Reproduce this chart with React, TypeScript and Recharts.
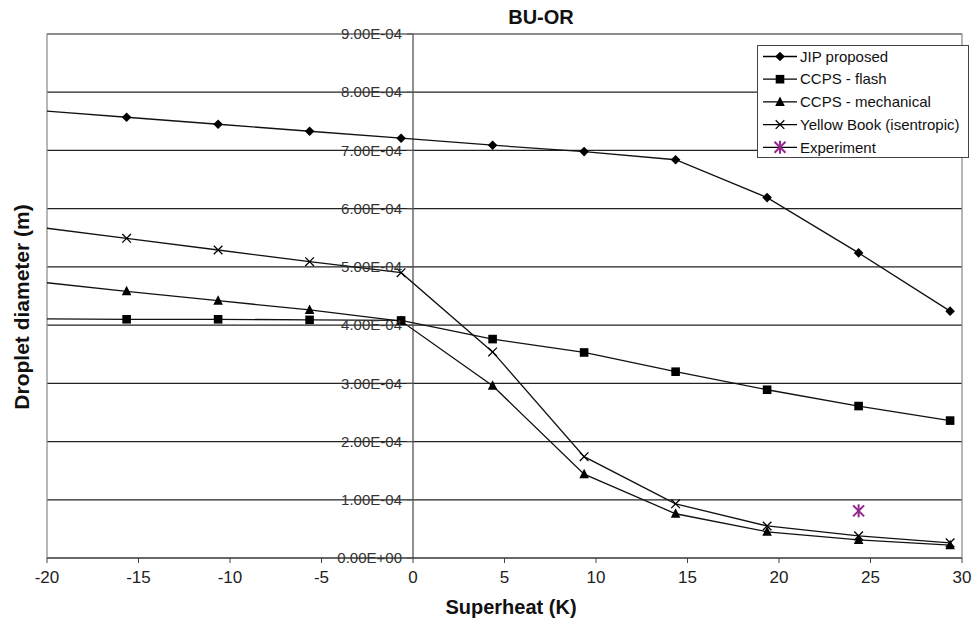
import React from 'react';
import {
  ComposedChart,
  Line,
  Scatter,
  XAxis,
  YAxis,
  CartesianGrid,
  ReferenceLine,
  ReferenceArea,
} from 'recharts';

// superheat (K) – first value sits just left of the axis range, as in the original plot
const superheat = [-20.65, -15.65, -10.65, -5.65, -0.65, 4.35, 9.35, 14.35, 19.35, 24.35, 29.35];
const jipProposed = [7.69e-4, 7.57e-4, 7.45e-4, 7.33e-4, 7.21e-4, 7.09e-4, 6.98e-4, 6.84e-4, 6.19e-4, 5.24e-4, 4.24e-4];
const ccpsFlash = [4.11e-4, 4.10e-4, 4.10e-4, 4.09e-4, 4.08e-4, 3.76e-4, 3.53e-4, 3.2e-4, 2.89e-4, 2.61e-4, 2.36e-4];
const ccpsMechanical = [4.75e-4, 4.58e-4, 4.42e-4, 4.26e-4, 4.07e-4, 2.96e-4, 1.44e-4, 0.76e-4, 0.45e-4, 0.31e-4, 0.22e-4];
const yellowBook = [5.69e-4, 5.49e-4, 5.29e-4, 5.09e-4, 4.9e-4, 3.54e-4, 1.74e-4, 0.93e-4, 0.55e-4, 0.38e-4, 0.26e-4];
const experimentX = [24.35];
const experimentY = [0.81e-4];

const xTicks = [-20, -15, -10, -5, 0, 5, 10, 15, 20, 25, 30];
const yTicks = [0, 1e-4, 2e-4, 3e-4, 4e-4, 5e-4, 6e-4, 7e-4, 8e-4, 9e-4];

const X_MIN = -20;
const X_MAX = 30;
const W = 975;
const H = 624;
const Y_AXIS_W = 1;
const X_AXIS_H = 30;
const MARGIN = { top: 34, right: 13, bottom: 36, left: 46 };
const PLOT_LEFT = MARGIN.left + Y_AXIS_W;
const PLOT_W = W - PLOT_LEFT - MARGIN.right;
const FONT = '"Liberation Sans", Arial, sans-serif';
const PURPLE = '#93268f';

const data = superheat.map((x, i) => ({
  x,
  jip: jipProposed[i],
  flash: ccpsFlash[i],
  mech: ccpsMechanical[i],
  yb: yellowBook[i],
}));
const experiment = experimentX.map((x, i) => ({ x, y: experimentY[i] }));

const fmtExp = (v: number) => {
  const [m, e] = v.toExponential(2).toUpperCase().split('E');
  const n = parseInt(e, 10);
  const sign = n < 0 ? '-' : '+';
  return `${m}E${sign}${String(Math.abs(n)).padStart(2, '0')}`;
};

type Shape = 'diamond' | 'square' | 'triangle' | 'cross' | 'star';

const Marker = ({ shape, cx, cy, color = '#000' }: { shape: Shape; cx: number; cy: number; color?: string }) => {
  if (shape === 'diamond') {
    const r = 4.8;
    return <polygon points={`${cx},${cy - r} ${cx + r},${cy} ${cx},${cy + r} ${cx - r},${cy}`} fill={color} />;
  }
  if (shape === 'square') return <rect x={cx - 4.3} y={cy - 4.3} width={8.6} height={8.6} fill={color} />;
  if (shape === 'triangle') {
    return <polygon points={`${cx},${cy - 5.5} ${cx + 4.8},${cy + 4} ${cx - 4.8},${cy + 4}`} fill={color} />;
  }
  if (shape === 'cross') {
    const r = 4.3;
    return (
      <g stroke={color} strokeWidth={1.3}>
        <line x1={cx - r} y1={cy - r} x2={cx + r} y2={cy + r} />
        <line x1={cx - r} y1={cy + r} x2={cx + r} y2={cy - r} />
      </g>
    );
  }
  const r = 5.5;
  return (
    <g stroke={color} strokeWidth={2}>
      <line x1={cx - r} y1={cy - r} x2={cx + r} y2={cy + r} />
      <line x1={cx - r} y1={cy + r} x2={cx + r} y2={cy - r} />
      <line x1={cx} y1={cy - r - 1} x2={cx} y2={cy + r + 1} />
    </g>
  );
};

const series: { key: string; name: string; shape: Shape }[] = [
  { key: 'jip', name: 'JIP proposed', shape: 'diamond' },
  { key: 'flash', name: 'CCPS - flash', shape: 'square' },
  { key: 'mech', name: 'CCPS - mechanical', shape: 'triangle' },
  { key: 'yb', name: 'Yellow Book (isentropic)', shape: 'cross' },
];

const makeDot = (shape: Shape) => (props: any) => {
  const { cx, cy, payload, index } = props;
  if (cx == null || cy == null || payload.x < X_MIN) return <g key={`d-${index}`} />;
  return (
    <g key={`d-${index}`}>
      <Marker shape={shape} cx={cx} cy={cy} />
    </g>
  );
};

// y axis sits on x = 0, inside the plot
const YTick = (props: any) => {
  const { y, payload } = props;
  const x0 = PLOT_LEFT + ((0 - X_MIN) / (X_MAX - X_MIN)) * PLOT_W;
  return (
    <g>
      <line x1={x0 - 6} x2={x0} y1={y} y2={y} stroke="#555" />
      <text x={x0 - 11} y={y} dy="0.35em" textAnchor="end" fontSize={15} fill="#333" fontFamily={FONT}>
        {fmtExp(payload.value)}
      </text>
    </g>
  );
};

const LegendBox = () => (
  <svg width={213} height={114} style={{ position: 'absolute', left: 757, top: 45 }}>
    <rect x={0.5} y={0.5} width={211} height={112} fill="#fff" stroke="#444" />
    {[...series.map((s) => ({ name: s.name, shape: s.shape, color: '#000' })), { name: 'Experiment', shape: 'star' as Shape, color: PURPLE }].map(
      (s, i) => {
        const y = 11.5 + i * 22.7;
        return (
          <g key={s.name}>
            <line x1={6} x2={40} y1={y} y2={y} stroke="#000" strokeWidth={1.3} />
            <Marker shape={s.shape} cx={23} cy={y} color={s.color} />
            <text x={43} y={y} dy="0.35em" fontSize={15} fill="#111" fontFamily={FONT}>
              {s.name}
            </text>
          </g>
        );
      },
    )}
  </svg>
);

const App = () => (
  <div style={{ position: 'absolute', left: 0, top: 0, width: W, height: H, background: '#fff', fontFamily: FONT }}>
    <ComposedChart width={W} height={H} data={data} margin={MARGIN}>
      <CartesianGrid vertical={false} stroke="#222" strokeWidth={1.2} />
      <ReferenceArea x1={X_MIN} x2={X_MAX} y1={0} y2={9e-4} fill="none" stroke="#888" strokeWidth={1.2} />
      <XAxis
        dataKey="x"
        type="number"
        domain={[X_MIN, X_MAX]}
        ticks={xTicks}
        allowDataOverflow
        height={X_AXIS_H}
        stroke="#444"
        tickSize={5}
        tick={{ fontSize: 17, fill: '#222', fontFamily: FONT }}
        tickMargin={8}
      />
      <YAxis
        type="number"
        domain={[0, 9e-4]}
        ticks={yTicks}
        interval={0}
        width={Y_AXIS_W}
        axisLine={false}
        tickLine={false}
        tick={(p: any) => <YTick {...p} />}
      />
      <ReferenceLine x={0} stroke="#555" strokeWidth={1.3} />
      {series.map((s) => (
        <Line
          key={s.key}
          dataKey={s.key}
          name={s.name}
          stroke="#111"
          strokeWidth={1.3}
          dot={makeDot(s.shape)}
          activeDot={false}
          isAnimationActive={false}
        />
      ))}
      <Scatter
        data={experiment}
        dataKey="y"
        name="Experiment"
        fill={PURPLE}
        shape={(p: any) => <Marker shape="star" cx={p.cx} cy={p.cy} color={PURPLE} />}
        isAnimationActive={false}
      />
    </ComposedChart>
    <LegendBox />
    <div style={{ position: 'absolute', left: 541, top: 17, transform: 'translate(-50%, -50%)', fontSize: 20, fontWeight: 'bold', color: '#111', whiteSpace: 'nowrap' }}>
      BU-OR
    </div>
    <div style={{ position: 'absolute', left: 511, top: 607, transform: 'translate(-50%, -50%)', fontSize: 20, fontWeight: 'bold', color: '#111', whiteSpace: 'nowrap' }}>
      Superheat (K)
    </div>
    <div style={{ position: 'absolute', left: 22, top: 307, transform: 'translate(-50%, -50%) rotate(-90deg)', fontSize: 21, fontWeight: 'bold', color: '#111', whiteSpace: 'nowrap' }}>
      Droplet diameter (m)
    </div>
  </div>
);

export default App;
